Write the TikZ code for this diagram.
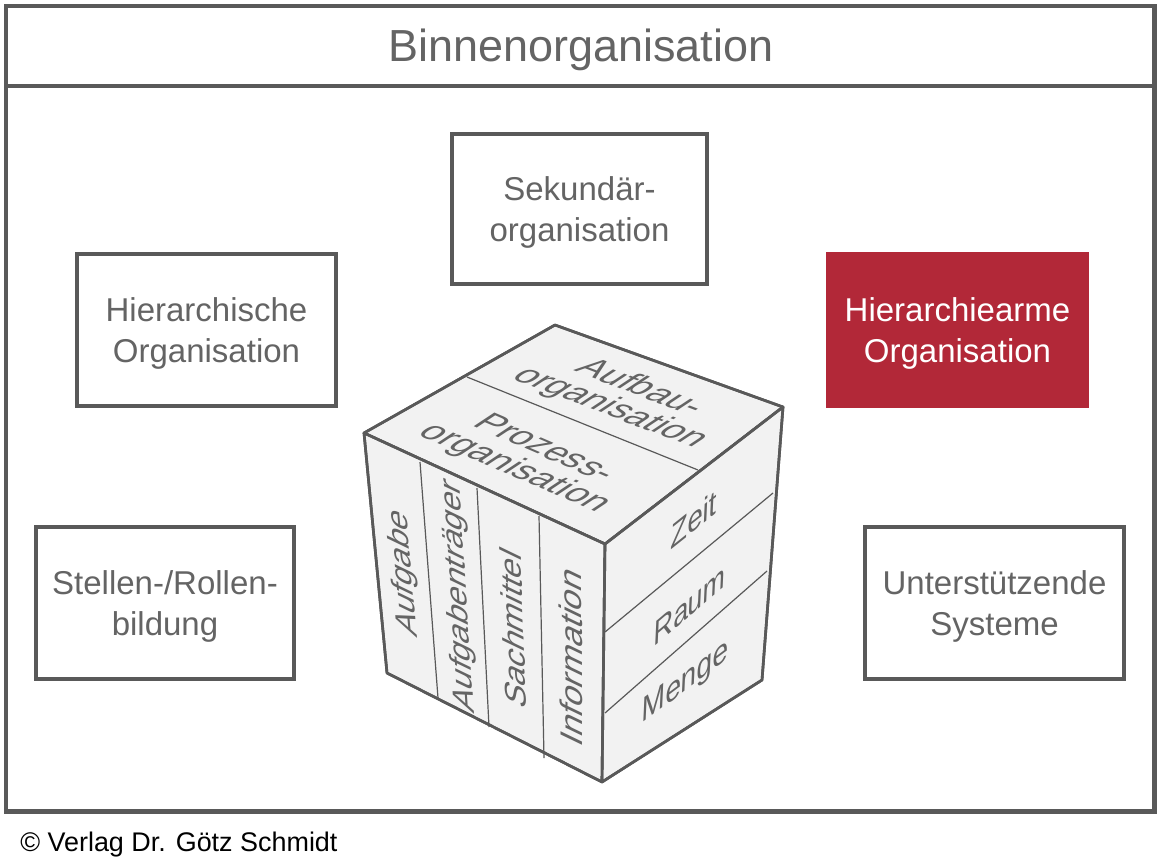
\documentclass[tikz,border=0pt]{standalone}
\usepackage{fontspec}
\setmainfont{Liberation Sans}
\definecolor{framecol}{HTML}{595959}
\definecolor{txtcol}{HTML}{646464}
\definecolor{redbox}{HTML}{B22838}
\definecolor{facecol}{HTML}{F2F2F2}
\begin{document}
\begin{tikzpicture}[x=0.75pt,y=-0.75pt,
  boxnode/.style={draw=framecol, line width=3pt, rectangle, align=center, text=txtcol,
    font=\fontsize{24.75}{30.75}\selectfont, text depth=0pt, inner sep=0pt},
  rednode/.style={fill=redbox, rectangle, align=center, text=white,
    font=\fontsize{24.75}{30.75}\selectfont, text depth=0pt, inner sep=0pt},
  cubeedge/.style={draw=framecol, line width=2pt, line join=round, fill=facecol},
  cubediv/.style={draw=framecol, line width=0.9pt},
  cubetxt/.style={text=txtcol, align=center, inner sep=0pt, transform shape,
    font=\fontsize{25}{24}\selectfont},
  toptxt/.style={cubetxt, font=\fontsize{27}{27}\selectfont},
  righttxt/.style={cubetxt, font=\fontsize{26.5}{26}\selectfont}]
\useasboundingbox (0,0) rectangle (1159,867);
\fill[white] (0,0) rectangle (1159,867);
% outer frame
\coordinate (fTL) at (6,6);
\coordinate (fBR) at (1154.5,811.5);
\coordinate (dL) at (6,86);
\coordinate (dR) at (1154.5,86);
\draw[framecol, line width=3.2pt] (fTL) rectangle (fBR);
\draw[framecol, line width=3.2pt] (dL) -- (dR);
\node[anchor=base, text=txtcol, font=\fontsize{33.7}{40}\selectfont, inner sep=0pt] (title) at (581,62) {Binnenorganisation};
% boxes
\node[boxnode, minimum width=194.25pt, minimum height=114pt] (hier) at (206.5,330) {Hierarchische\\Organisation};
\node[boxnode, minimum width=191.25pt, minimum height=112.5pt] (sek) at (579.5,209) {Sekundär-\\organisation};
\node[boxnode, minimum width=193.5pt, minimum height=114pt] (stellen) at (165,603) {Stellen-/Rollen-\\bildung};
\node[boxnode, minimum width=194.25pt, minimum height=114pt] (unter) at (994.5,603) {Unterstützende\\Systeme};
\node[rednode, minimum width=197.25pt, minimum height=117pt] (hierarm) at (957.5,330) {Hierarchiearme\\Organisation};
% cube
\coordinate (T) at (555,325);
\coordinate (L) at (364,433);
\coordinate (F) at (605,544);
\coordinate (R) at (783,407);
\coordinate (Fb) at (602,782);
\coordinate (Lb) at (387,673);
\coordinate (Rb) at (762,680);
\draw[cubeedge] (T) -- (R) -- (F) -- (L) -- cycle;
\draw[cubeedge] (L) -- (F) -- (Fb) -- (Lb) -- cycle;
\draw[cubeedge] (F) -- (R) -- (Rb) -- (Fb) -- cycle;
% dividers
\coordinate (tdA) at (467,377);
\coordinate (tdB) at (698,470);
\draw[cubediv] (tdA) -- (tdB);
\coordinate (l1a) at (420,462); \coordinate (l1b) at (438,698);
\coordinate (l2a) at (477,488); \coordinate (l2b) at (489,727);
\coordinate (l3a) at (539,516); \coordinate (l3b) at (544,758);
\draw[cubediv] (l1a) -- (l1b);
\draw[cubediv] (l2a) -- (l2b);
\draw[cubediv] (l3a) -- (l3b);
\coordinate (r1a) at (605,632); \coordinate (r1b) at (773,493);
\coordinate (r2a) at (605,713); \coordinate (r2b) at (767,571);
\draw[cubediv] (r1a) -- (r1b);
\draw[cubediv] (r2a) -- (r2b);
% redraw outer edges on top
\draw[framecol, line width=2pt, line join=round] (T) -- (R) -- (Rb) -- (Fb) -- (Lb) -- (L) -- cycle;
\draw[framecol, line width=2pt, line join=round] (L) -- (F) -- (R) (F) -- (Fb);
% top face texts
\begin{scope}[shift={(625,398)}, cm={0.935,-0.356,0.833,0.553,(0,0)}]
  \node[toptxt] (aufbau) {Aufbau-\\organisation};
\end{scope}
\begin{scope}[shift={(529,459)}, cm={0.918,-0.396,0.833,0.553,(0,0)}]
  \node[toptxt] (prozess) {Prozess-\\organisation};
\end{scope}
% left face texts
\begin{scope}[shift={(404,573)}, cm={-0.0858,0.9963,-0.90,0.435,(0,0)}]
  \node[cubetxt] (aufgabe) {Aufgabe};
\end{scope}
\begin{scope}[shift={(459,596)}, cm={-0.0630,0.998,-0.90,0.435,(0,0)}]
  \node[cubetxt] (traeger) {Aufgabenträger};
\end{scope}
\begin{scope}[shift={(513,628)}, cm={-0.0353,0.9994,-0.90,0.435,(0,0)}]
  \node[cubetxt] (sach) {Sachmittel};
\end{scope}
\begin{scope}[shift={(571,656)}, cm={-0.004,1,-0.90,0.435,(0,0)}]
  \node[cubetxt, font=\fontsize{26}{24}\selectfont] (info) {Information};
\end{scope}
% right face texts
\begin{scope}[shift={(694,519)}, cm={0.782,0.624,0.045,0.999,(0,0)}]
  \node[righttxt] (zeit) {Zeit};
\end{scope}
\begin{scope}[shift={(690,605)}, cm={0.7615,0.6485,0.045,0.999,(0,0)}]
  \node[righttxt] (raum) {Raum};
\end{scope}
\begin{scope}[shift={(685,683)}, cm={0.797,0.598,0.045,0.999,(0,0)}]
  \node[righttxt] (menge) {Menge};
\end{scope}
% copyright
\node[anchor=base west, inner sep=0pt, text=black, font=\fontsize{20.2}{24}\selectfont] (copy) at (20,851) {© Verlag Dr. Götz Schmidt};
\end{tikzpicture}
\end{document}
